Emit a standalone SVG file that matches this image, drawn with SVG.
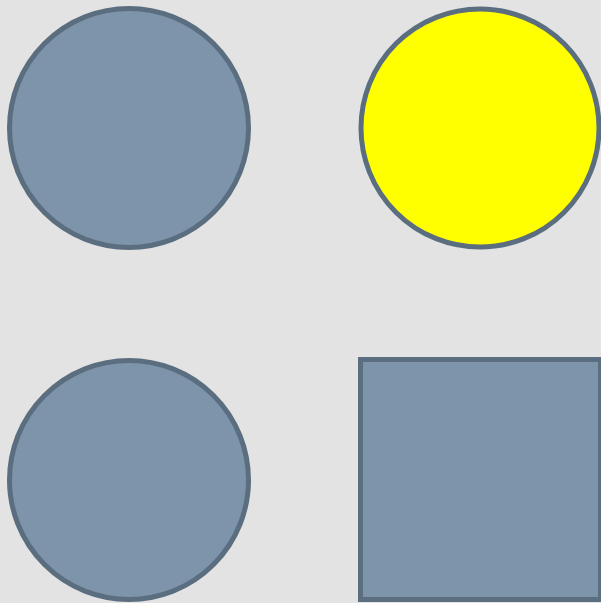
<svg xmlns="http://www.w3.org/2000/svg" width="601" height="603" viewBox="0 0 601 603">
<style>
.shape{stroke:#5a6e80;stroke-width:5}
.blue{fill:#7d94ab}
.yellow{fill:#ffff00}
</style>
<rect x="0" y="0" width="601" height="603" fill="#e3e3e3"/>
<g id="circle-top-left"><circle class="shape blue" cx="129" cy="128" r="119.5"/></g>
<g id="circle-top-right"><circle class="shape yellow" cx="480" cy="128" r="119"/></g>
<g id="circle-bottom-left"><circle class="shape blue" cx="129" cy="480" r="119.5"/></g>
<g id="square-bottom-right"><rect class="shape blue" x="360.5" y="359.5" width="240" height="240"/></g>
<g id="connectors"></g>
</svg>
